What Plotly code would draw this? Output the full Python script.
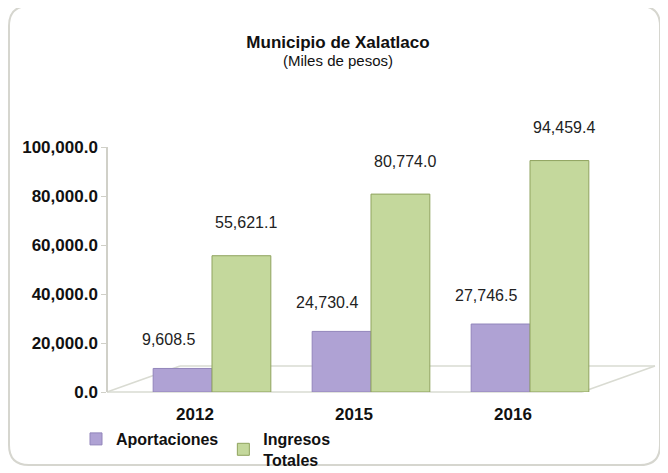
import plotly.graph_objects as go

years = ["2012", "2015", "2016"]
aportaciones = [9608.5, 24730.4, 27746.5]
ingresos = [55621.1, 80774.0, 94459.4]
series_names = ["Aportaciones", "Ingresos<br>Totales"]
y_ticks = [0, 20000, 40000, 60000, 80000, 100000]
y_tick_labels = ["0.0", "20,000.0", "40,000.0", "60,000.0", "80,000.0", "100,000.0"]

# the page adds an 8px body margin, so the figure is 8px smaller and offset
OFF = 8
W, H = 668 - OFF, 473 - OFF
L, R, T, B = 100, 60, 139, 81
pw, ph = W - L - R, H - T - B

def px(x):  # reference-pixel x -> paper
    return (x - OFF - L) / pw

def py(y):  # reference-pixel y -> paper
    return (H - B - (y - OFF)) / ph

fmt = lambda v: f"{v:,.1f}"
FONT = "Liberation Sans, Arial"

fig = go.Figure()
fig.add_trace(go.Bar(
    x=years, y=aportaciones, name=series_names[0],
    marker=dict(color="#afa2d4", line=dict(color="#9285bb", width=1)),
    cliponaxis=False,
))
fig.add_trace(go.Bar(
    x=years, y=ingresos, name=series_names[1],
    marker=dict(color="#c4d89c", line=dict(color="#8fa35e", width=1)),
    cliponaxis=False,
))

annotations = []
for i, v in enumerate(aportaciones):
    annotations.append(dict(x=i, y=v, xref="x", yref="y", text=fmt(v), showarrow=False,
                            xshift=-44, yshift=29, yanchor="middle",
                            font=dict(family=FONT, size=16, color="#222")))
for i, v in enumerate(ingresos):
    annotations.append(dict(x=i, y=v, xref="x", yref="y", text=fmt(v), showarrow=False,
                            xshift=34, yshift=33, yanchor="middle",
                            font=dict(family=FONT, size=16, color="#222")))

# rounded chart border
x0, x1, y0, y1 = 9, 660, 6, 465
r = 20
path = (f"M {px(x0+r)},{py(y0)} L {px(x1-r)},{py(y0)} Q {px(x1)},{py(y0)} {px(x1)},{py(y0+r)} "
        f"L {px(x1)},{py(y1-r)} Q {px(x1)},{py(y1)} {px(x1-r)},{py(y1)} "
        f"L {px(x0+r)},{py(y1)} Q {px(x0)},{py(y1)} {px(x0)},{py(y1-r)} "
        f"L {px(x0)},{py(y0+r)} Q {px(x0)},{py(y0)} {px(x0+r)},{py(y0)} Z")
shapes = [dict(type="path", path=path, xref="paper", yref="paper",
               line=dict(color="#d6d6cf", width=2), fillcolor="rgba(0,0,0,0)", layer="below")]
# floor lines
floor = [((107, 392), (582, 392)), ((582, 392), (655, 366)), ((655, 366), (180, 366)), ((107, 392), (180, 366))]
for (a, b) in floor:
    shapes.append(dict(type="line", xref="paper", yref="paper",
                       x0=px(a[0]), y0=py(a[1]), x1=px(b[0]), y1=py(b[1]),
                       line=dict(color="#d9dbd2", width=1.5), layer="below"))

unit = 159.0
fig.update_layout(
    width=W, height=H,
    margin=dict(l=L, r=R, t=T, b=B, autoexpand=False),
    paper_bgcolor="white", plot_bgcolor="rgba(0,0,0,0)",
    barmode="group", bargap=0.26, bargroupgap=0,
    title=dict(text="<span style='font-size:17px'><b>Municipio de Xalatlaco</b></span><br>"
                    "<span style='font-size:15px'>(Miles de pesos)</span>",
               x=(338 - OFF) / W, xanchor="center", y=1 - 40 / H, yanchor="top",
               font=dict(family=FONT, size=14, color="#111")),
    xaxis=dict(type="category", range=[-(212 - 108) / unit, (608 - 212) / unit],
               showline=False, showgrid=False, ticks="",
               tickfont=dict(family=FONT, size=17, color="#111", weight="bold"),
               ticklabelstandoff=10, ticklabelshift=-17),
    yaxis=dict(range=[0, 100000], tickvals=y_ticks, ticktext=y_tick_labels,
               showgrid=False, showline=True, linecolor="#d0d0c8", linewidth=1.5,
               ticks="outside", ticklen=5, tickcolor="#d0d0c8", zeroline=False,
               tickfont=dict(family=FONT, size=17, color="#111", weight="bold")),
    legend=dict(orientation="h", x=px(76), y=py(422), xanchor="left", yanchor="top",
                font=dict(family=FONT, size=16, color="#111", weight="bold"),
                itemwidth=30, tracegroupgap=0, bgcolor="rgba(0,0,0,0)"),
    shapes=shapes,
    annotations=annotations,
)

fig.write_html("out.html")
